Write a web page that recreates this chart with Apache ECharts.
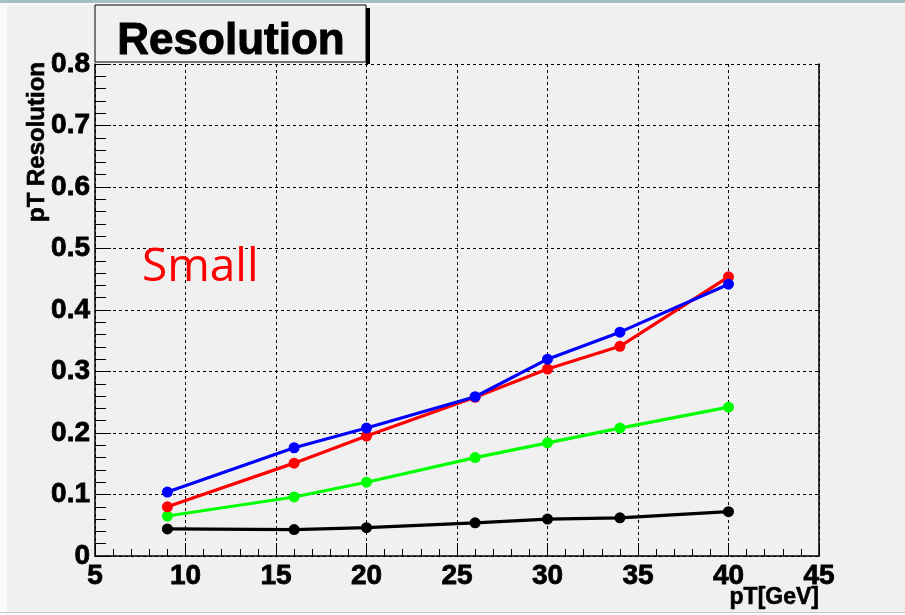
<!DOCTYPE html>
<html>
<head>
<meta charset="utf-8">
<script src="https://cdn.jsdelivr.net/npm/echarts@6/dist/echarts.min.js"></script>
<style>
html,body{margin:0;padding:0;background:#f0f0f0;}
#chart{width:905px;height:615px;}
</style>
</head>
<body>
<div id="chart"></div>
<script>
const xValues = [9, 16, 20, 26, 30, 34, 40];
const blackValues = [0.044, 0.043, 0.046, 0.054, 0.060, 0.062, 0.072];
const greenValues = [0.065, 0.096, 0.120, 0.160, 0.184, 0.208, 0.242];
const redValues   = [0.080, 0.151, 0.195, 0.258, 0.304, 0.341, 0.454];
const blueValues  = [0.104, 0.176, 0.208, 0.259, 0.320, 0.364, 0.442];
const titleText = 'Resolution';
const xName = 'pT[GeV]';
const yName = 'pT Resolution';
const noteText = 'Small';

const FONT = '"Liberation Sans", Arial, Helvetica, sans-serif';
function pairs(vals){ return xValues.map((x,i)=>[x, vals[i]]); }
function mk(name, color, vals){
  return {
    name, type:'line', data: pairs(vals), color,
    symbol:'circle', symbolSize:11, showSymbol:true,
    lineStyle:{width:3.2, color}, itemStyle:{color},
    animation:false, z:3
  };
}
const labelStyle = {fontSize:28, fontWeight:'bold', fontFamily:FONT, color:'#000',
  textBorderColor:'#000', textBorderWidth:0.8};
const chart = echarts.init(document.getElementById('chart'), null, {renderer:'canvas'});
chart.setOption({
  backgroundColor:'#f0f0f0',
  animation:false,
  grid:{left:95, right:86, top:64, bottom:59, show:false},
  xAxis:{
    type:'value', min:5, max:45, interval:5,
    axisLine:{show:true, lineStyle:{color:'#000', width:1.5}},
    axisTick:{show:true, inside:true, length:13, lineStyle:{color:'#000', width:1}},
    minorTick:{show:true, splitNumber:5, length:7, lineStyle:{color:'#000', width:1}},
    axisLabel:Object.assign({margin:6, showMinLabel:true, showMaxLabel:true}, labelStyle),
    splitLine:{show:true, lineStyle:{color:'#000', width:1, type:[3,3]}}
  },
  yAxis:[{
    type:'value', min:0, max:0.8, interval:0.1,
    axisLine:{show:true, lineStyle:{color:'#000', width:1.5}},
    axisTick:{show:true, inside:true, length:16, lineStyle:{color:'#000', width:1}},
    minorTick:{show:true, splitNumber:5, length:11, lineStyle:{color:'#000', width:1}},
    axisLabel:Object.assign({margin:5, formatter:v=> (Math.round(v*10)/10).toString()}, labelStyle),
    splitLine:{show:true, lineStyle:{color:'#000', width:1, type:[3,3]}}
  },{
    type:'value', min:0, max:0.8, interval:0.1, position:'right',
    axisLine:{show:true, lineStyle:{color:'#000', width:1.5}},
    axisTick:{show:false}, axisLabel:{show:false}, splitLine:{show:false}
  }],
  series:[
    mk('black','#000000', blackValues),
    mk('green','#00ff00', greenValues),
    mk('red','#ff0000', redValues),
    mk('blue','#0000ff', blueValues)
  ],
  graphic:[
    {type:'rect', silent:true, z:-10, shape:{x:0,y:0,width:905,height:3}, style:{fill:'#a3c1c4'}},
    {type:'rect', silent:true, z:-10, shape:{x:0,y:3,width:905,height:2}, style:{fill:'#fafafa'}},
    {type:'rect', silent:true, z:-10, shape:{x:0,y:3,width:7,height:612}, style:{fill:'#fafafa'}},
    {type:'rect', silent:true, z:-10, shape:{x:0,y:612,width:905,height:1}, style:{fill:'#c8c8c8'}},
    {type:'rect', silent:true, z:-10, shape:{x:0,y:613,width:905,height:2}, style:{fill:'#fafafa'}},
    {type:'rect', silent:true, z:20, shape:{x:366,y:8,width:4,height:56}, style:{fill:'#000'}},
    {type:'rect', silent:true, z:20, shape:{x:95,y:5,width:271,height:57}, style:{fill:'#f0f0f0', stroke:'#000', lineWidth:1}},
    {type:'text', silent:true, z:21, x:231, y:42, style:{text:titleText, font:'bold 44px '+FONT, fill:'#000', stroke:'#000', lineWidth:1, textAlign:'center', textVerticalAlign:'middle'}},
    {type:'text', silent:true, z:21, x:819, y:598, style:{text:xName, font:'bold 23px '+FONT, fill:'#000', stroke:'#000', lineWidth:0.6, textAlign:'right', textVerticalAlign:'middle'}},
    {type:'text', silent:true, z:21, x:37, y:62, rotation:Math.PI/2, style:{text:yName, font:'bold 24px '+FONT, fill:'#000', stroke:'#000', lineWidth:0.6, textAlign:'right', textVerticalAlign:'middle'}},
    {type:'text', silent:true, z:21, x:142, y:268, style:{text:noteText, font:'46px "Open Sans", "Noto Sans", sans-serif', fill:'#ff0000', textAlign:'left', textVerticalAlign:'middle'}}
  ]
});
</script>
</body>
</html>
